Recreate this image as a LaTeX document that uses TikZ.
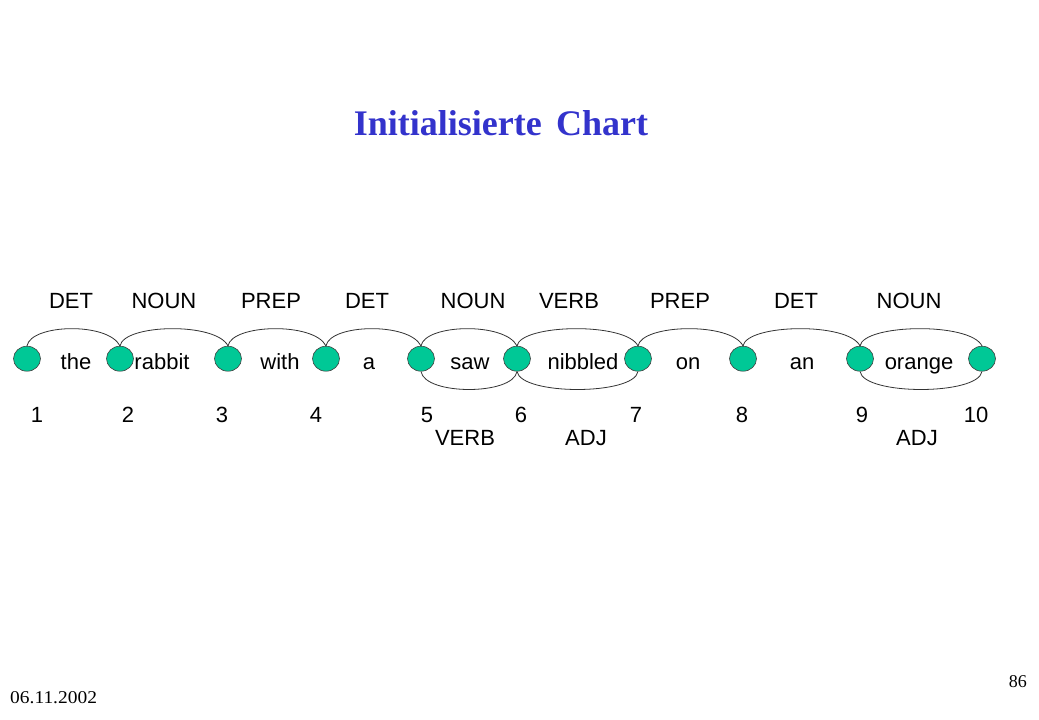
\documentclass[tikz,border=0pt]{standalone}
\usepackage{fontspec}
\setmainfont{Liberation Serif}
\newfontfamily\arialf{Liberation Sans}
\usetikzlibrary{shapes.geometric}
\definecolor{dotgreen}{HTML}{00C896}
\definecolor{titleblue}{HTML}{3333CC}
\begin{document}
\begin{tikzpicture}[x=1pt,y=-1pt,
  dot/.style={ellipse,draw=black!75,line width=0.6pt,fill=dotgreen,minimum width=27pt,minimum height=25pt,inner sep=0pt},
  lbl/.style={font=\arialf\fontsize{22}{24}\selectfont,anchor=base,inner sep=0pt},
  arcl/.style={draw=black!80,line width=0.8pt},
  titlestyle/.style={font=\fontsize{36}{40}\selectfont\bfseries,text=titleblue,anchor=base,inner sep=0pt},
  footstyle/.style={font=\fontsize{18}{20}\selectfont,inner sep=0pt}]
\useasboundingbox (0,0) rectangle (1039,720);
\fill[white] (0,0) rectangle (1039,720);
% title
\node[titlestyle] (title) at (501,135.7) {Initialisierte\hspace{0.4em}Chart};
% chart vertices
\foreach \i/\x in {1/27,2/120,3/228,4/326,5/421,6/517,7/638,8/743,9/860,10/982}
  \node[dot] (c\i) at (\x,358.7) {};
% words
\node[lbl] (w1) at (76,369.5) {the};
\node[lbl] (w2) at (162,369.5) {rabbit};
\node[lbl] (w3) at (280,369.5) {with};
\node[lbl] (w4) at (369,369.5) {a};
\node[lbl] (w5) at (470,369.5) {saw};
\node[lbl] (w6) at (583,369.5) {nibbled};
\node[lbl] (w7) at (688,369.5) {on};
\node[lbl] (w8) at (802,369.5) {an};
\node[lbl] (w9) at (919,369.5) {orange};
% categories above
\node[lbl] (a1) at (71,308.7) {DET};
\node[lbl] (a2) at (164,308.7) {NOUN};
\node[lbl] (a3) at (271,308.7) {PREP};
\node[lbl] (a4) at (367,308.7) {DET};
\node[lbl] (a5) at (473,308.7) {NOUN};
\node[lbl] (a6) at (569,308.7) {VERB};
\node[lbl] (a7) at (680,308.7) {PREP};
\node[lbl] (a8) at (796,308.7) {DET};
\node[lbl] (a9) at (909,308.7) {NOUN};
% numbers
\foreach \i/\x in {1/37,2/128,3/222,4/316,5/427,6/521,7/636,8/742,9/862,10/976}
  \node[lbl] (n\i) at (\x,422) {\i};
% categories below
\node[lbl] (b5) at (465,445.5) {VERB};
\node[lbl] (b6) at (586,445.5) {ADJ};
\node[lbl] (b9) at (917,445.5) {ADJ};
% top arcs
\foreach \i/\j in {1/2,2/3,3/4,4/5,5/6,6/7,7/8,8/9,9/10}
  \draw[arcl] (c\i.north) .. controls +(4,-22) and +(-12,-24) .. (c\j.north);
% bottom arcs
\foreach \i/\j in {5/6,6/7,9/10}
  \draw[arcl] (c\i.south) .. controls +(4,24) and +(-4,24) .. (c\j.south);
% footer
\node[footstyle,anchor=base west,xscale=1.08] (date) at (10,703) {06.11.2002};
\node[footstyle,anchor=base east] (page) at (1027,687) {86};
\end{tikzpicture}
\end{document}
